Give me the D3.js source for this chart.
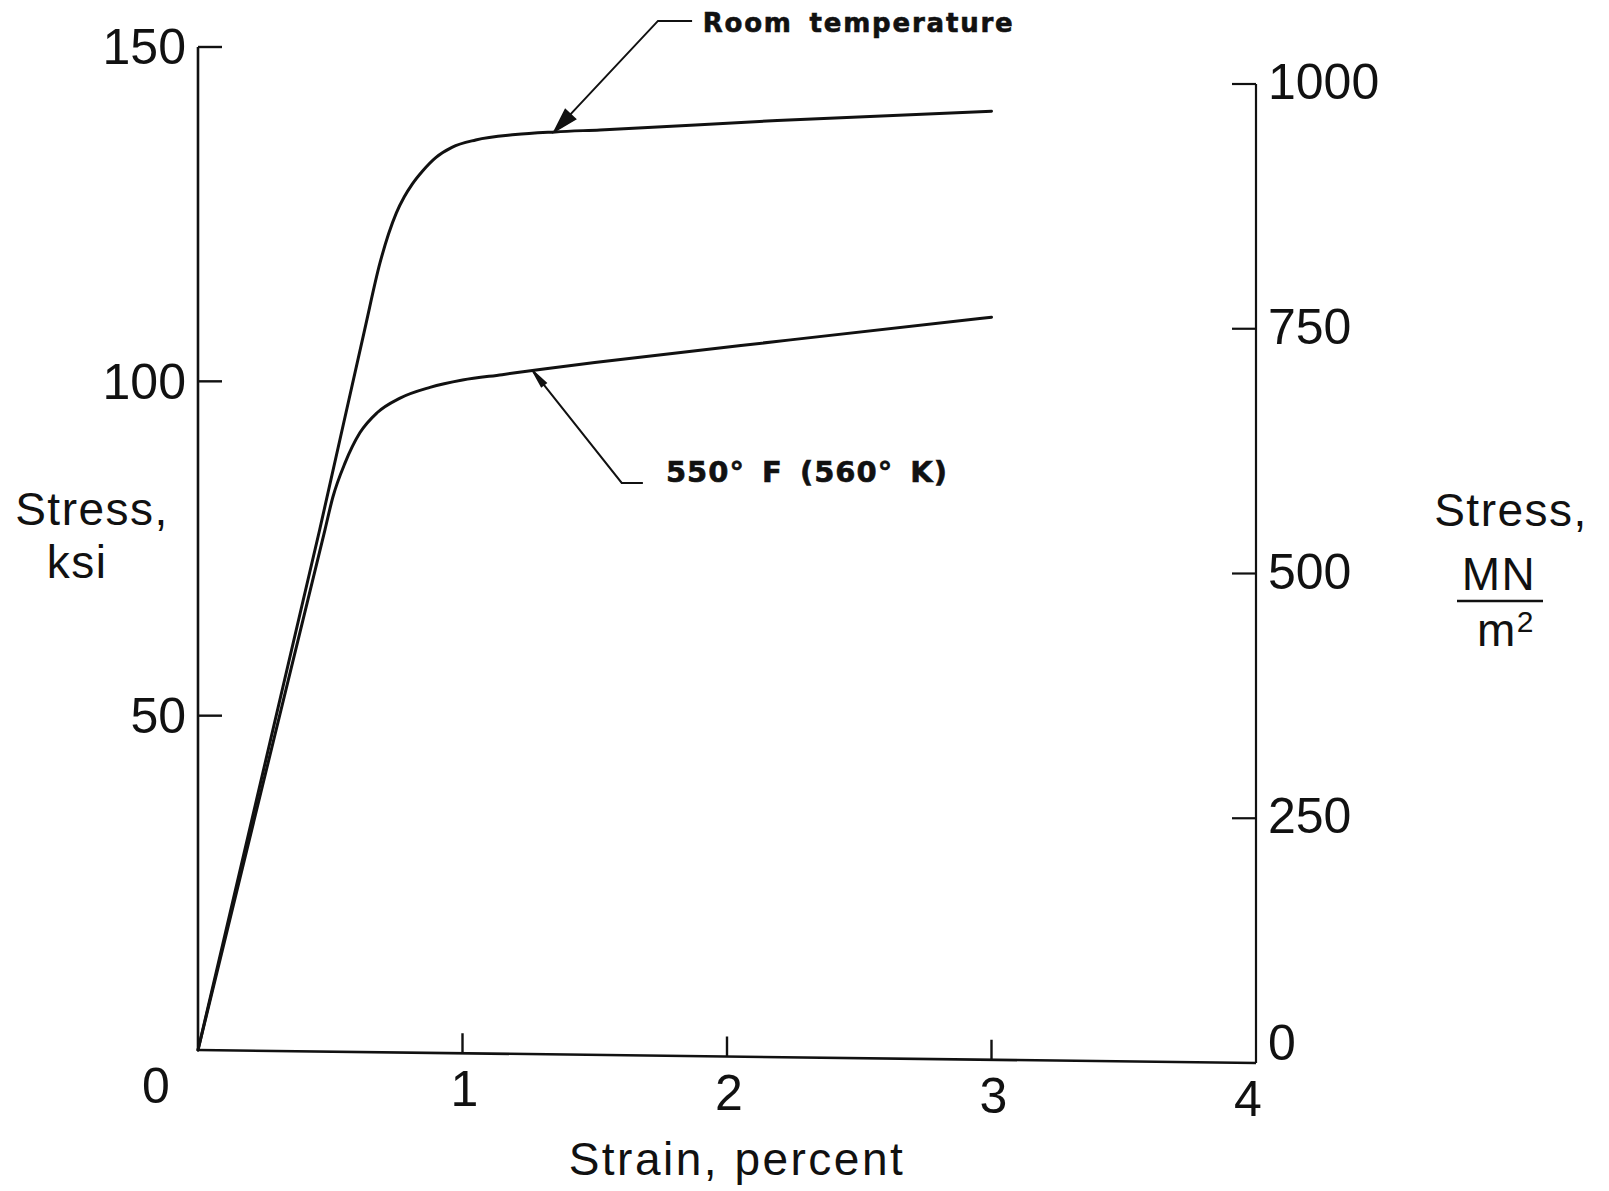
<!DOCTYPE html>
<html>
<head>
<meta charset="utf-8">
<script src="https://cdn.jsdelivr.net/npm/d3@7"></script>
<style>
  html, body { margin: 0; padding: 0; background: #fff; }
  svg { display: block; }
  .tick-label { font-family: "Liberation Sans", Arial, sans-serif; font-size: 50px; fill: #111; }
  .axis-title { font-family: "Liberation Sans", Arial, sans-serif; font-size: 46px; fill: #111; letter-spacing: 1.5px; }
  .note { font-family: "DejaVu Sans", sans-serif; font-weight: bold; fill: #111; }
</style>
</head>
<body>
<svg id="chart" width="1609" height="1191"></svg>
<script>
// Stress-strain curves, two test temperatures
const roomStrain = [0, 0.46, 0.63, 0.688, 0.72, 0.75, 0.78, 0.81, 0.85, 0.90, 0.96, 1.05, 1.20, 1.35, 1.52, 2.19, 3.0];
const roomStress = [0, 77.8, 107.7, 117.7, 122.0, 125.2, 127.6, 129.5, 131.5, 133.5, 135.0, 136.1, 136.9, 137.3, 137.6, 139.0, 140.4];

const hotStrain = [0, 0.48, 0.51, 0.556, 0.612, 0.677, 0.764, 0.877, 1.0, 1.15, 1.3, 1.5, 2.24, 3.0];
const hotStress = [0, 77.8, 82.7, 87.8, 92.3, 95.3, 97.5, 99.1, 100.2, 101.0, 101.8, 102.8, 106.2, 109.6];

// Axis ticks
const strainTicks = [0, 1, 2, 3, 4];
const ksiTicks = [0, 50, 100, 150];
const mnTicks = [0, 250, 500, 750, 1000];

// Curve labels
const seriesLabels = ["Room temperature", "550° F (560° K)"];

const svg = d3.select("#chart");
svg.append("rect").attr("width", 1609).attr("height", 1191).attr("fill", "#fff");

const x = d3.scaleLinear().domain([0, 4]).range([198, 1256]);
const yL = d3.scaleLinear().domain([0, 150]).range([1050, 47]);
const yR = d3.scaleLinear().domain([0, 1000]).range([1063, 84]);
// baseline of the strain axis runs from the left zero to the right zero
const baseY = s => yL(0) + (yR(0) - yL(0)) * (s / 4);

const ink = "#111";
const tickLen = 24;
const g = svg.append("g");

// Left (ksi) axis
g.append("line")
  .attr("x1", x(0)).attr("x2", x(0))
  .attr("y1", yL(0)).attr("y2", yL(150))
  .attr("stroke", ink).attr("stroke-width", 2.6);
ksiTicks.filter(v => v > 0).forEach(v => {
  g.append("line")
    .attr("x1", x(0)).attr("x2", x(0) + tickLen)
    .attr("y1", yL(v)).attr("y2", yL(v))
    .attr("stroke", ink).attr("stroke-width", 2.4);
});
ksiTicks.filter(v => v > 0).forEach(v => {
  g.append("text").attr("class", "tick-label")
    .attr("x", x(0) - 12).attr("y", yL(v) + 4)
    .attr("text-anchor", "end").attr("dominant-baseline", "middle")
    .text(v);
});

// Right (MN/m²) axis
g.append("line")
  .attr("x1", x(4)).attr("x2", x(4))
  .attr("y1", yR(0)).attr("y2", yR(1000))
  .attr("stroke", ink).attr("stroke-width", 2.2);
mnTicks.filter(v => v > 0).forEach(v => {
  g.append("line")
    .attr("x1", x(4)).attr("x2", x(4) - tickLen)
    .attr("y1", yR(v)).attr("y2", yR(v))
    .attr("stroke", ink).attr("stroke-width", 2.2);
});
mnTicks.forEach(v => {
  g.append("text").attr("class", "tick-label")
    .attr("x", x(4) + 12).attr("y", yR(v) + (v === 0 ? -16 : 2))
    .attr("dominant-baseline", "middle")
    .text(v);
});

// Strain axis
g.append("line")
  .attr("x1", x(0)).attr("x2", x(4))
  .attr("y1", baseY(0)).attr("y2", baseY(4))
  .attr("stroke", ink).attr("stroke-width", 2.6);
strainTicks.filter(v => v > 0 && v < 4).forEach(v => {
  g.append("line")
    .attr("x1", x(v)).attr("x2", x(v))
    .attr("y1", baseY(v)).attr("y2", baseY(v) - 20)
    .attr("stroke", ink).attr("stroke-width", 2.4);
});
strainTicks.forEach(v => {
  g.append("text").attr("class", "tick-label")
    .attr("x", x(v) + (v === 0 ? -42 : (v === 4 ? -8 : 2)))
    .attr("y", baseY(v) + 53)
    .attr("text-anchor", "middle")
    .text(v);
});

// Axis titles
g.append("text").attr("class", "axis-title")
  .attr("x", 92).attr("y", 525).attr("text-anchor", "middle").text("Stress,");
g.append("text").attr("class", "axis-title")
  .attr("x", 77).attr("y", 578).attr("text-anchor", "middle").text("ksi");

g.append("text").attr("class", "axis-title")
  .attr("x", 1511).attr("y", 526).attr("text-anchor", "middle").text("Stress,");
g.append("text").attr("class", "axis-title")
  .attr("x", 1499).attr("y", 590).attr("text-anchor", "middle").text("MN");
g.append("line")
  .attr("x1", 1457).attr("x2", 1543).attr("y1", 601).attr("y2", 601)
  .attr("stroke", ink).attr("stroke-width", 2.6);
const m2 = g.append("text").attr("class", "axis-title")
  .attr("x", 1506).attr("y", 646).attr("text-anchor", "middle");
m2.append("tspan").text("m");
m2.append("tspan").attr("font-size", 30).attr("dy", -14).text("2");

g.append("text").attr("class", "axis-title")
  .attr("x", 737).attr("y", 1175).attr("text-anchor", "middle")
  .style("letter-spacing", "2.5px")
  .text("Strain, percent");

// Curves
const line = d3.line()
  .x(d => x(d[0]))
  .y(d => yL(d[1]))
  .curve(d3.curveMonotoneX);

const roomData = roomStrain.map((s, i) => [s, roomStress[i]]);
const hotData = hotStrain.map((s, i) => [s, hotStress[i]]);

[roomData, hotData].forEach(d => {
  g.append("path").attr("d", line(d))
    .attr("fill", "none").attr("stroke", ink)
    .attr("stroke-width", 3).attr("stroke-linejoin", "round").attr("stroke-linecap", "round");
});

// Leader lines with arrowheads
function leader(tip, elbow, lineEnd, textPos, label, size, spacing, headLen, headHalf) {
  const pts = [[lineEnd[0], lineEnd[1]], [elbow[0], elbow[1]], [tip[0], tip[1]]]
    .map(p => [x(p[0]), yL(p[1])]);
  g.append("path").attr("d", d3.line()(pts))
    .attr("fill", "none").attr("stroke", ink).attr("stroke-width", 2);
  const [tx, ty] = pts[2];
  const [ex, ey] = pts[1];
  const len = Math.hypot(ex - tx, ey - ty);
  const ux = (ex - tx) / len, uy = (ey - ty) / len;
  const bx = tx + ux * headLen, by = ty + uy * headLen;
  const head = [[tx, ty], [bx - uy * headHalf, by + ux * headHalf], [bx + uy * headHalf, by - ux * headHalf]];
  g.append("path").attr("d", d3.line()(head) + "Z")
    .attr("fill", ink).attr("stroke", ink).attr("stroke-width", 1.6);
  g.append("text").attr("class", "note")
    .attr("x", x(textPos[0])).attr("y", yL(textPos[1]))
    .attr("font-size", size)
    .style("letter-spacing", spacing + "px")
    .style("word-spacing", "6px")
    .style("stroke", ink).style("stroke-width", 0.6)
    .text(label);
}

leader([1.346, 137.3], [1.739, 153.9], [1.868, 153.9], [1.908, 152.3], seriesLabels[0], 26, 1.8, 24, 7);
leader([1.265, 101.6], [1.602, 84.8], [1.682, 84.8], [1.769, 85.0], seriesLabels[1], 29, 1.0, 18, 3);
</script>
</body>
</html>
